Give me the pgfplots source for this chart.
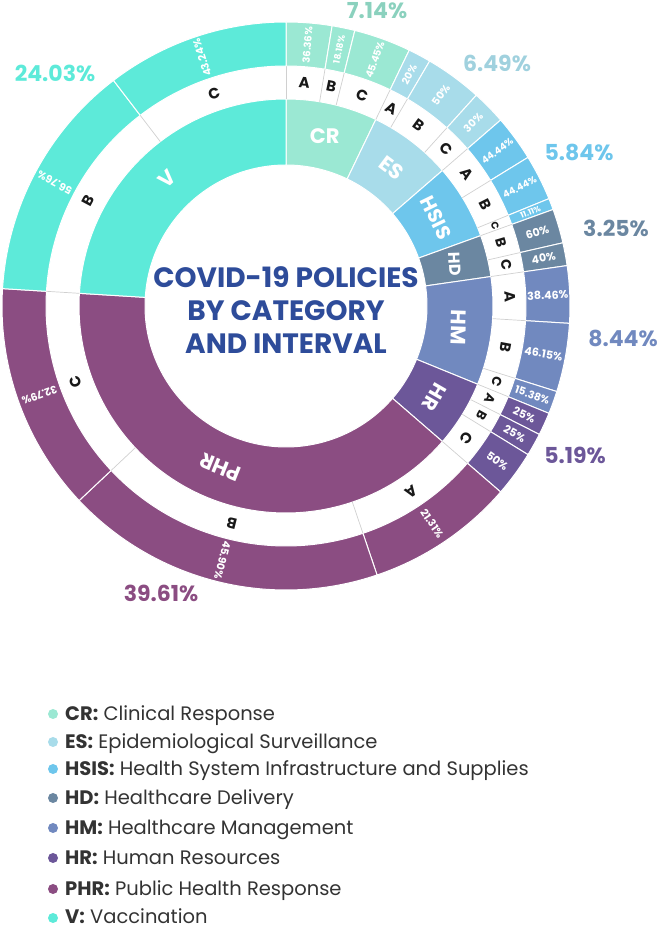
\documentclass[border=0pt]{standalone}
\usepackage{pgfplots}
\pgfplotsset{compat=1.18}
\usepackage{fontspec}
\setmainfont{Poppins}
\definecolor{cCR}{HTML}{9BE8D3}
\definecolor{cES}{HTML}{A8DCEA}
\definecolor{cHSIS}{HTML}{6EC6EC}
\definecolor{cHD}{HTML}{6B87A1}
\definecolor{cHM}{HTML}{7189BF}
\definecolor{cHR}{HTML}{6C5799}
\definecolor{cPHR}{HTML}{8B4D82}
\definecolor{cV}{HTML}{5DEAD9}
\definecolor{ctitle}{HTML}{2E4C9A}
\definecolor{sepgray}{HTML}{D0D0D0}
\definecolor{legtext}{HTML}{333333}
% total = 154 policies; one policy = 360/154 = 2.3376623 degrees; clockwise from top
\newcommand{\ring}[5]{%
  \fill[#5, draw=white, line width=1pt]
    ({#4*cos(90-(#1)*2.3376623)},{#4*sin(90-(#1)*2.3376623)})
    arc[start angle={90-(#1)*2.3376623}, end angle={90-(#2)*2.3376623}, radius=#4pt]
    -- ({#3*cos(90-(#2)*2.3376623)},{#3*sin(90-(#2)*2.3376623)})
    arc[start angle={90-(#2)*2.3376623}, end angle={90-(#1)*2.3376623}, radius=#3pt]
    -- cycle;}
\newcommand{\cat}[6]{% start end abbr color rotation size
  \ring{#1}{#2}{141}{207}{#4}
  \node[font=\bfseries\fontsize{#6}{#6}\selectfont, text=white, rotate=#5]
    at ({174*cos(90-((#1)+(#2))*1.1688312)},{174*sin(90-((#1)+(#2))*1.1688312)}) {#3};}
\newcommand{\sub}[7]{% start end letter pct color lettersize pctsize
  \ring{#1}{#2}{240}{284}{#5}
  \draw[sepgray, line width=0.7pt]
    ({207*cos(90-(#1)*2.3376623)},{207*sin(90-(#1)*2.3376623)}) --
    ({240*cos(90-(#1)*2.3376623)},{240*sin(90-(#1)*2.3376623)});
  \node[font=\bfseries\fontsize{#6}{#6}\selectfont, text=black!90, inner sep=0pt,
    rotate={0-((#1)+(#2))*1.1688312}]
    at ({224*cos(90-((#1)+(#2))*1.1688312)},{224*sin(90-((#1)+(#2))*1.1688312)}) {#3};
  \node[font=\bfseries\fontsize{#7}{#7}\selectfont, text=white, inner sep=0pt,
    rotate={90-((#1)+(#2))*1.1688312}]
    at ({262*cos(90-((#1)+(#2))*1.1688312)},{262*sin(90-((#1)+(#2))*1.1688312)}) {#4\%};}
\begin{document}
\begin{tikzpicture}
\begin{axis}[
  x=1pt, y=1pt, xmin=-286, xmax=375, ymin=-621, ymax=306,
  enlargelimits=false, hide axis, clip=false,
]
% inner ring: categories (counts out of 154)
\cat{0}{11}{CR}{cCR}{0}{21}
\cat{11}{21}{ES}{cES}{-37}{21}
\cat{21}{30}{HSIS}{cHSIS}{-64}{20}
\cat{30}{35}{HD}{cHD}{-88}{16}
\cat{35}{48}{HM}{cHM}{-92}{21}
\cat{48}{56}{HR}{cHR}{-120}{20}
\cat{56}{117}{PHR}{cPHR}{158}{21}
\cat{117}{154}{V}{cV}{43}{21}
% outer ring: intervals within each category
\sub{0}{4}{A}{36.36}{cCR}{15}{10}
\sub{4}{6}{B}{18.18}{cCR}{15}{9}
\sub{6}{11}{C}{45.45}{cCR}{15}{10}
\sub{11}{13}{A}{20}{cES}{15}{10}
\sub{13}{18}{B}{50}{cES}{15}{10.5}
\sub{18}{21}{C}{30}{cES}{15}{10.5}
\sub{21}{25}{A}{44.44}{cHSIS}{15}{9.5}
\sub{25}{29}{B}{44.44}{cHSIS}{15}{9.5}
\sub{29}{30}{C}{11.11}{cHSIS}{10}{8}
\sub{30}{33}{B}{60}{cHD}{14}{11}
\sub{33}{35}{C}{40}{cHD}{14}{11}
\sub{35}{40}{A}{38.46}{cHM}{15}{11}
\sub{40}{46}{B}{46.15}{cHM}{15}{11}
\sub{46}{48}{C}{15.38}{cHM}{13}{10.5}
\sub{48}{50}{A}{25}{cHR}{13}{11}
\sub{50}{52}{B}{25}{cHR}{13}{11}
\sub{52}{56}{C}{50}{cHR}{15}{11}
\sub{56}{69}{A}{21.31}{cPHR}{15}{10.5}
\sub{69}{97}{B}{45.90}{cPHR}{15}{10.5}
\sub{97}{117}{C}{32.79}{cPHR}{15}{10.5}
\sub{117}{138}{B}{56.76}{cV}{15}{10.5}
\sub{138}{154}{C}{43.24}{cV}{15}{10.5}
% category shares
\node[font=\bfseries\fontsize{22}{22}\selectfont, text=cCR!90!black] at (91,295) {7.14\%};
\node[font=\bfseries\fontsize{22}{22}\selectfont, text=cES!95!black] at (211,243) {6.49\%};
\node[font=\bfseries\fontsize{22}{22}\selectfont, text=cHSIS] at (293,154) {5.84\%};
\node[font=\bfseries\fontsize{22}{22}\selectfont, text=cHD] at (330,78) {3.25\%};
\node[font=\bfseries\fontsize{22}{22}\selectfont, text=cHM] at (337,-32) {8.44\%};
\node[font=\bfseries\fontsize{22}{22}\selectfont, text=cHR] at (289,-149) {5.19\%};
\node[font=\bfseries\fontsize{22}{22}\selectfont, text=cPHR] at (-125,-287) {39.61\%};
\node[font=\bfseries\fontsize{22}{22}\selectfont, text=cV] at (-231,233) {24.03\%};
% title
\node[align=center, text=ctitle, font=\bfseries\fontsize{28}{33}\selectfont] at (0,-4)
  {COVID-19 POLICIES\\BY CATEGORY\\AND INTERVAL};
% legend
\fill[cCR] (-233,-408) circle[radius=5pt];
\fill[cES] (-233,-436) circle[radius=5pt];
\fill[cHSIS] (-233,-463) circle[radius=5pt];
\fill[cHD] (-233,-492) circle[radius=5pt];
\fill[cHM] (-233,-522) circle[radius=5pt];
\fill[cHR] (-233,-552) circle[radius=5pt];
\fill[cPHR] (-233,-583) circle[radius=5pt];
\fill[cV] (-233,-612) circle[radius=5pt];
\begin{scope}[every node/.style={anchor=base west, inner sep=0pt, text=legtext, font=\fontsize{19.5}{19.5}\selectfont}]
\node at (-221,-414.5) {\textbf{CR:} Clinical Response};
\node at (-221,-442.5) {\textbf{ES:} Epidemiological Surveillance};
\node at (-221,-469.5) {\textbf{HSIS:} Health System Infrastructure and Supplies};
\node at (-221,-498.5) {\textbf{HD:} Healthcare Delivery};
\node at (-221,-528.5) {\textbf{HM:} Healthcare Management};
\node at (-221,-558.5) {\textbf{HR:} Human Resources};
\node at (-221,-589.5) {\textbf{PHR:} Public Health Response};
\node at (-221,-618) {\textbf{V:} Vaccination};
\end{scope}
\end{axis}
\pgfresetboundingbox
\path[use as bounding box] (current axis.south west) rectangle (current axis.north east);
\end{tikzpicture}
\end{document}
